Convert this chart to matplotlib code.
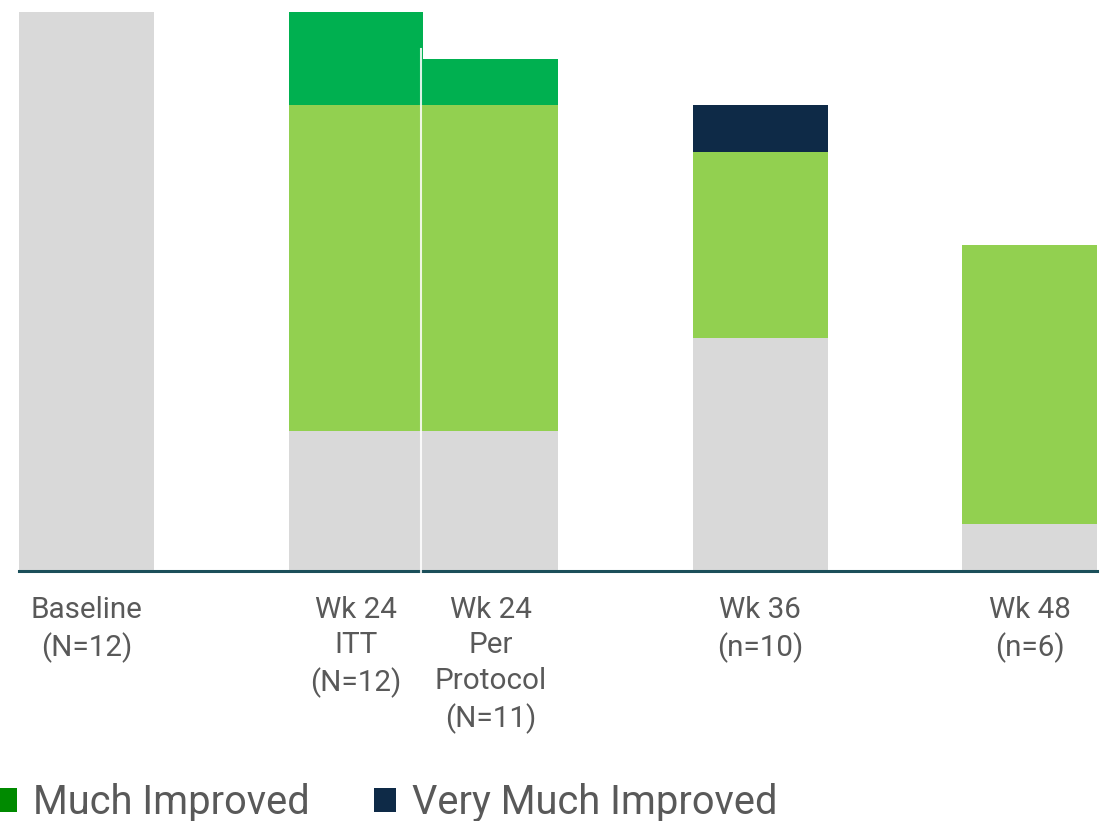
import matplotlib
matplotlib.use("Agg")
import matplotlib.pyplot as plt
from matplotlib.patches import Patch

plt.rcParams['font.family'] = ['Roboto', 'DejaVu Sans']

# Timepoints and patient counts per response category
categories = ["Baseline\n(N=12)", "Wk 24\nITT\n(N=12)", "Wk 24\nPer\nProtocol\n(N=11)",
              "Wk 36\n(n=10)", "Wk 48\n(n=6)"]
positions = [0, 2, 3, 5, 7]
no_change = [12, 3, 3, 5, 1]
minimally_improved = [0, 7, 7, 4, 6]
much_improved = [0, 2, 1, 0, 0]
very_much_improved = [0, 0, 0, 1, 0]

legend_labels = ["Much Improved", "Very Much Improved"]

c_gray = "#d9d9d9"
c_light = "#92d050"
c_dark = "#00b050"
c_navy = "#0e2a47"
c_legend_green = "#008a00"
c_text = "#595959"

fig = plt.figure(figsize=(11.07, 8.21), dpi=100)
W, H = 1107, 821
ax = fig.add_axes([19 / W, (H - 571) / H, 1078 / W, 559 / H])

bottom = [0] * len(positions)
for vals, col in [(no_change, c_gray), (minimally_improved, c_light),
                  (much_improved, c_dark), (very_much_improved, c_navy)]:
    ax.bar(positions, vals, width=1.0, bottom=bottom, color=col, linewidth=0)
    bottom = [b + v for b, v in zip(bottom, vals)]

# separator between the two week-24 bars
ax.plot([2.48, 2.48], [-0.05, 11.2], color="white", lw=1.5, alpha=0.85,
        clip_on=False, zorder=5)

ax.set_xlim(-0.5, 7.5)
ax.set_ylim(0, 12)
for s in ["top", "right", "left"]:
    ax.spines[s].set_visible(False)
ax.spines["bottom"].set_color("#1b4f5a")
ax.spines["bottom"].set_linewidth(2.2)
ax.set_yticks([])
ax.set_xticks(positions)
ax.set_xticklabels(categories, fontsize=21.3, color=c_text, linespacing=1.34)
ax.tick_params(axis="x", length=0, pad=18)

handles = [Patch(facecolor=c_legend_green), Patch(facecolor=c_navy)]
fig.legend(handles, legend_labels, loc="lower left", bbox_to_anchor=(-0.004, -0.001),
           frameon=False, ncol=2, fontsize=28.7, handlelength=0.55, handleheight=0.55,
           handletextpad=0.4, columnspacing=1.6, borderaxespad=0.0, borderpad=0.0,
           labelcolor=c_text)

fig.savefig("out.png", dpi=100)
